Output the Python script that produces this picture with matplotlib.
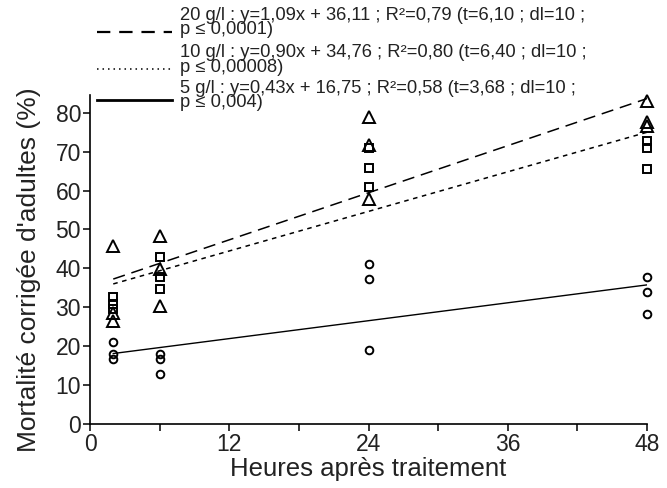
import numpy as np
import matplotlib.pyplot as plt
from matplotlib.lines import Line2D

plt.rcParams['font.family'] = ['Liberation Sans', 'DejaVu Sans']

# Heures après traitement (3 répétitions par temps)
heures = [2, 6, 24, 48]
dose20 = [[45.8, 28.6, 26.6], [48.3, 39.8, 30.3], [79.0, 71.7, 57.8], [82.9, 77.5, 76.5]]
dose10 = [[32.7, 30.8, 29.5], [43.0, 37.7, 34.6], [71.0, 65.9, 60.8], [72.6, 70.9, 65.5]]
dose5 = [[21.2, 18.0, 16.6], [18.0, 16.6, 12.8], [41.0, 37.2, 19.0], [37.7, 33.9, 28.3]]

legendes = [
    "20 g/l : y=1,09x + 36,11 ; R²=0,79 (t=6,10 ; dl=10 ;\np ≤ 0,0001)",
    "10 g/l : y=0,90x + 34,76 ; R²=0,80 (t=6,40 ; dl=10 ;\np ≤ 0,00008)",
    "5 g/l : y=0,43x + 16,75 ; R²=0,58 (t=3,68 ; dl=10 ;\np ≤ 0,004)",
]

fig = plt.figure(figsize=(6.67, 4.88), dpi=100)
ax = fig.add_axes([0.135, 0.131, 0.835, 0.674])

series = [
    (dose20, '^', 8, dict(dashes=(8, 4.5), lw=1.1)),
    (dose10, 's', 6, dict(dashes=(3, 3), lw=1.1)),
    (dose5, 'o', 5.5, dict(lw=1.0)),
]

for vals, marker, ms, style in series:
    tx = np.repeat(heures, 3)
    ty = np.array(vals).ravel()
    ax.plot(tx, ty, marker, ms=ms, mfc='none', mec='black', mew=1.4,
            clip_on=False, zorder=3)
    # droite de régression
    pente, ordo = np.polyfit(tx, ty, 1)
    xs = np.array([min(heures), max(heures)])
    ax.plot(xs, pente * xs + ordo, color='black', **style)

ax.set_xlim(0, 48)
ax.set_ylim(0, 84.5)
ax.set_xticks([0, 12, 24, 36, 48])
ax.set_xticks([6, 18, 30, 42], minor=True)
ax.set_yticks(np.arange(0, 90, 10))
ax.spines['top'].set_visible(False)
ax.spines['right'].set_visible(False)
for s in ['left', 'bottom']:
    ax.spines[s].set_linewidth(1.2)
ax.tick_params(which='both', direction='out', length=5, width=1.1,
               labelsize=16.5, pad=1.5, colors='#222222')
ax.tick_params(which='both', color='black')
ax.set_xlabel('Heures après traitement', fontsize=18.5, labelpad=1, color='#222222')
ax.set_ylabel("Mortalité corrigée d'adultes (%)", fontsize=19, color='#222222')
ax.yaxis.set_label_coords(-0.088, 0.47)

# Légende manuelle en haut
styles_leg = [dict(dashes=(6, 4), lw=1.6), dict(dashes=(1, 2.6), lw=1.1), dict(lw=2.0)]
ligne_y = [32, 69, 100]
texte_y = [22.5, 60, 95.5]
for txt, st, ly, tyy in zip(legendes, styles_leg, ligne_y, texte_y):
    fig.add_artist(Line2D([97 / 667, 172 / 667], [1 - ly / 488] * 2,
                          transform=fig.transFigure, color='black', **st))
    fig.text(180 / 667, 1 - tyy / 488, txt, fontsize=13.2, va='center',
             ha='left', linespacing=0.78, color='#222222')

fig.savefig('out.png', dpi=100)
